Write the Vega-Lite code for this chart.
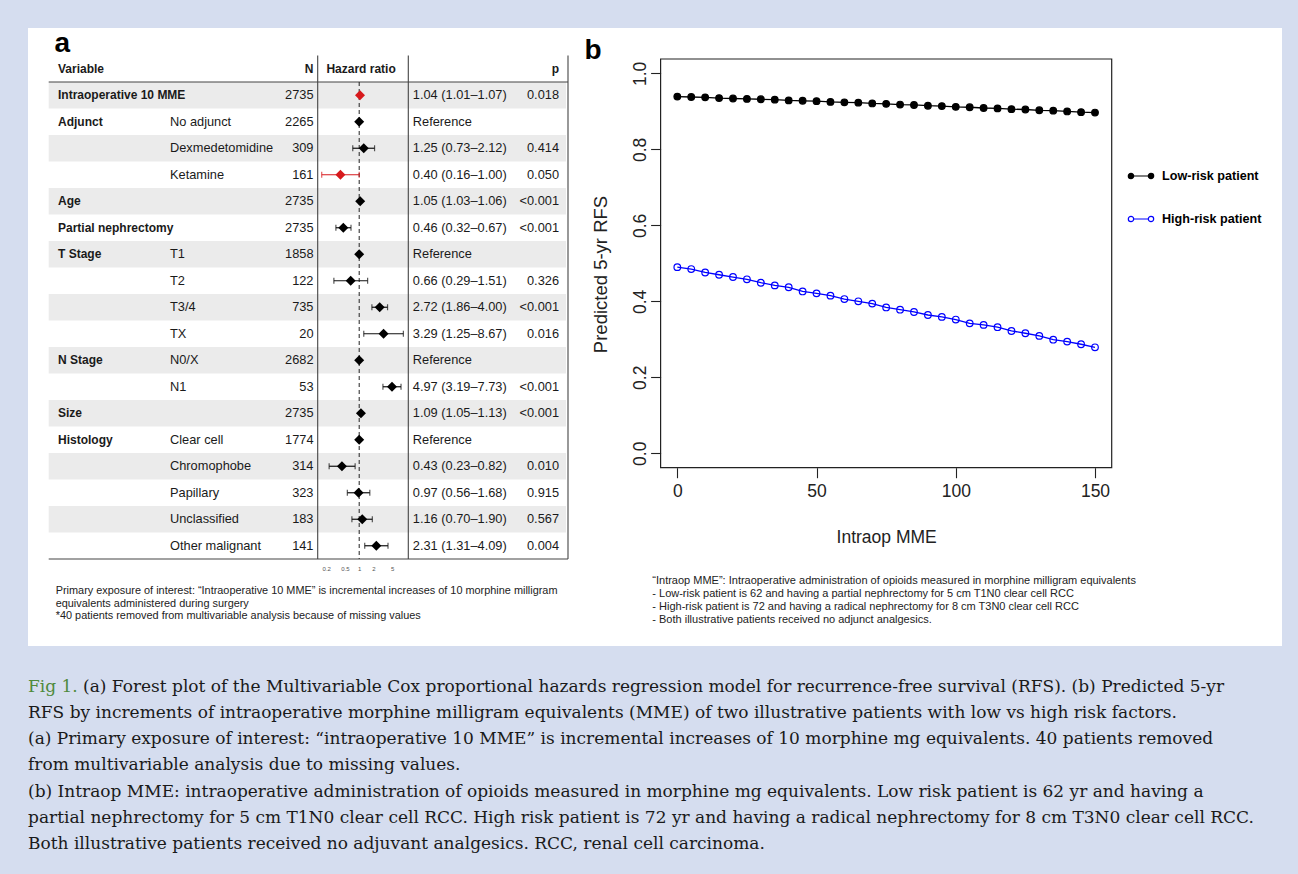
{
  "$schema": "https://vega.github.io/schema/vega-lite/v6.json",
  "background": "#d5ddef",
  "padding": {"left": 28, "top": 28, "right": 16, "bottom": 0},
  "config": {
    "view": {"stroke": null},
    "axis": {"grid": false, "labelFont": "Liberation Sans", "titleFont": "Liberation Sans"},
    "legend": {"labelFont": "Liberation Sans"},
    "text": {"font": "Liberation Sans"}
  },
  "datasets": {
    "forest": [
      {"id": 1, "var": "Intraoperative 10 MME", "sub": "", "n": "2735", "est": "1.04 (1.01–1.07)", "p": "0.018", "hr": 1.04, "lo": 1.01, "hi": 1.07, "hl": true},
      {"id": 2, "var": "Adjunct", "sub": "No adjunct", "n": "2265", "est": "Reference", "p": "", "hr": 1, "lo": null, "hi": null, "hl": false},
      {"id": 3, "var": "", "sub": "Dexmedetomidine", "n": "309", "est": "1.25 (0.73–2.12)", "p": "0.414", "hr": 1.25, "lo": 0.73, "hi": 2.12, "hl": false},
      {"id": 4, "var": "", "sub": "Ketamine", "n": "161", "est": "0.40 (0.16–1.00)", "p": "0.050", "hr": 0.40, "lo": 0.16, "hi": 1.00, "hl": true},
      {"id": 5, "var": "Age", "sub": "", "n": "2735", "est": "1.05 (1.03–1.06)", "p": "<0.001", "hr": 1.05, "lo": 1.03, "hi": 1.06, "hl": false},
      {"id": 6, "var": "Partial nephrectomy", "sub": "", "n": "2735", "est": "0.46 (0.32–0.67)", "p": "<0.001", "hr": 0.46, "lo": 0.32, "hi": 0.67, "hl": false},
      {"id": 7, "var": "T Stage", "sub": "T1", "n": "1858", "est": "Reference", "p": "", "hr": 1, "lo": null, "hi": null, "hl": false},
      {"id": 8, "var": "", "sub": "T2", "n": "122", "est": "0.66 (0.29–1.51)", "p": "0.326", "hr": 0.66, "lo": 0.29, "hi": 1.51, "hl": false},
      {"id": 9, "var": "", "sub": "T3/4", "n": "735", "est": "2.72 (1.86–4.00)", "p": "<0.001", "hr": 2.72, "lo": 1.86, "hi": 4.00, "hl": false},
      {"id": 10, "var": "", "sub": "TX", "n": "20", "est": "3.29 (1.25–8.67)", "p": "0.016", "hr": 3.29, "lo": 1.25, "hi": 8.67, "hl": false},
      {"id": 11, "var": "N Stage", "sub": "N0/X", "n": "2682", "est": "Reference", "p": "", "hr": 1, "lo": null, "hi": null, "hl": false},
      {"id": 12, "var": "", "sub": "N1", "n": "53", "est": "4.97 (3.19–7.73)", "p": "<0.001", "hr": 4.97, "lo": 3.19, "hi": 7.73, "hl": false},
      {"id": 13, "var": "Size", "sub": "", "n": "2735", "est": "1.09 (1.05–1.13)", "p": "<0.001", "hr": 1.09, "lo": 1.05, "hi": 1.13, "hl": false},
      {"id": 14, "var": "Histology", "sub": "Clear cell", "n": "1774", "est": "Reference", "p": "", "hr": 1, "lo": null, "hi": null, "hl": false},
      {"id": 15, "var": "", "sub": "Chromophobe", "n": "314", "est": "0.43 (0.23–0.82)", "p": "0.010", "hr": 0.43, "lo": 0.23, "hi": 0.82, "hl": false},
      {"id": 16, "var": "", "sub": "Papillary", "n": "323", "est": "0.97 (0.56–1.68)", "p": "0.915", "hr": 0.97, "lo": 0.56, "hi": 1.68, "hl": false},
      {"id": 17, "var": "", "sub": "Unclassified", "n": "183", "est": "1.16 (0.70–1.90)", "p": "0.567", "hr": 1.16, "lo": 0.70, "hi": 1.90, "hl": false},
      {"id": 18, "var": "", "sub": "Other malignant", "n": "141", "est": "2.31 (1.31–4.09)", "p": "0.004", "hr": 2.31, "lo": 1.31, "hi": 4.09, "hl": false}
    ],
    "rfs": [
      {"series": "Low-risk patient", "mme": 0, "rfs": 0.939},
      {"series": "Low-risk patient", "mme": 5, "rfs": 0.938},
      {"series": "Low-risk patient", "mme": 10, "rfs": 0.937},
      {"series": "Low-risk patient", "mme": 15, "rfs": 0.935},
      {"series": "Low-risk patient", "mme": 20, "rfs": 0.934},
      {"series": "Low-risk patient", "mme": 25, "rfs": 0.933},
      {"series": "Low-risk patient", "mme": 30, "rfs": 0.932},
      {"series": "Low-risk patient", "mme": 35, "rfs": 0.931},
      {"series": "Low-risk patient", "mme": 40, "rfs": 0.929},
      {"series": "Low-risk patient", "mme": 45, "rfs": 0.928},
      {"series": "Low-risk patient", "mme": 50, "rfs": 0.927},
      {"series": "Low-risk patient", "mme": 55, "rfs": 0.925},
      {"series": "Low-risk patient", "mme": 60, "rfs": 0.924},
      {"series": "Low-risk patient", "mme": 65, "rfs": 0.923},
      {"series": "Low-risk patient", "mme": 70, "rfs": 0.921},
      {"series": "Low-risk patient", "mme": 75, "rfs": 0.920},
      {"series": "Low-risk patient", "mme": 80, "rfs": 0.918},
      {"series": "Low-risk patient", "mme": 85, "rfs": 0.917},
      {"series": "Low-risk patient", "mme": 90, "rfs": 0.915},
      {"series": "Low-risk patient", "mme": 95, "rfs": 0.914},
      {"series": "Low-risk patient", "mme": 100, "rfs": 0.912},
      {"series": "Low-risk patient", "mme": 105, "rfs": 0.911},
      {"series": "Low-risk patient", "mme": 110, "rfs": 0.909},
      {"series": "Low-risk patient", "mme": 115, "rfs": 0.908},
      {"series": "Low-risk patient", "mme": 120, "rfs": 0.906},
      {"series": "Low-risk patient", "mme": 125, "rfs": 0.905},
      {"series": "Low-risk patient", "mme": 130, "rfs": 0.903},
      {"series": "Low-risk patient", "mme": 135, "rfs": 0.902},
      {"series": "Low-risk patient", "mme": 140, "rfs": 0.900},
      {"series": "Low-risk patient", "mme": 145, "rfs": 0.898},
      {"series": "Low-risk patient", "mme": 150, "rfs": 0.897},
      {"series": "High-risk patient", "mme": 0, "rfs": 0.490},
      {"series": "High-risk patient", "mme": 5, "rfs": 0.485},
      {"series": "High-risk patient", "mme": 10, "rfs": 0.476},
      {"series": "High-risk patient", "mme": 15, "rfs": 0.470},
      {"series": "High-risk patient", "mme": 20, "rfs": 0.464},
      {"series": "High-risk patient", "mme": 25, "rfs": 0.458},
      {"series": "High-risk patient", "mme": 30, "rfs": 0.449},
      {"series": "High-risk patient", "mme": 35, "rfs": 0.442},
      {"series": "High-risk patient", "mme": 40, "rfs": 0.437},
      {"series": "High-risk patient", "mme": 45, "rfs": 0.426},
      {"series": "High-risk patient", "mme": 50, "rfs": 0.421},
      {"series": "High-risk patient", "mme": 55, "rfs": 0.415},
      {"series": "High-risk patient", "mme": 60, "rfs": 0.406},
      {"series": "High-risk patient", "mme": 65, "rfs": 0.400},
      {"series": "High-risk patient", "mme": 70, "rfs": 0.394},
      {"series": "High-risk patient", "mme": 75, "rfs": 0.384},
      {"series": "High-risk patient", "mme": 80, "rfs": 0.378},
      {"series": "High-risk patient", "mme": 85, "rfs": 0.372},
      {"series": "High-risk patient", "mme": 90, "rfs": 0.364},
      {"series": "High-risk patient", "mme": 95, "rfs": 0.359},
      {"series": "High-risk patient", "mme": 100, "rfs": 0.352},
      {"series": "High-risk patient", "mme": 105, "rfs": 0.342},
      {"series": "High-risk patient", "mme": 110, "rfs": 0.338},
      {"series": "High-risk patient", "mme": 115, "rfs": 0.332},
      {"series": "High-risk patient", "mme": 120, "rfs": 0.322},
      {"series": "High-risk patient", "mme": 125, "rfs": 0.316},
      {"series": "High-risk patient", "mme": 130, "rfs": 0.309},
      {"series": "High-risk patient", "mme": 135, "rfs": 0.299},
      {"series": "High-risk patient", "mme": 140, "rfs": 0.294},
      {"series": "High-risk patient", "mme": 145, "rfs": 0.287},
      {"series": "High-risk patient", "mme": 150, "rfs": 0.279}
    ],
    "notesA": [
      {"line": 1, "text": "Primary exposure of interest: “Intraoperative 10 MME” is incremental increases of 10 morphine milligram"},
      {"line": 2, "text": "equivalents administered during surgery"},
      {"line": 3, "text": "*40 patients removed from multivariable analysis because of missing values"}
    ],
    "notesB": [
      {"line": 1, "text": "“Intraop MME”: Intraoperative administration of opioids measured in morphine milligram equivalents"},
      {"line": 2, "text": "- Low-risk patient is 62 and having a partial nephrectomy for 5 cm T1N0 clear cell RCC"},
      {"line": 3, "text": "- High-risk patient is 72 and having a radical nephrectomy for 8 cm T3N0 clear cell RCC"},
      {"line": 4, "text": "- Both illustrative patients received no adjunct analgesics."}
    ],
    "caption": [
      {"line": 1, "text": "(a) Forest plot of the Multivariable Cox proportional hazards regression model for recurrence-free survival (RFS). (b) Predicted 5-yr"},
      {"line": 2, "text": "RFS by increments of intraoperative morphine milligram equivalents (MME) of two illustrative patients with low vs high risk factors."},
      {"line": 3, "text": "(a) Primary exposure of interest: “intraoperative 10 MME” is incremental increases of 10 morphine mg equivalents. 40 patients removed"},
      {"line": 4, "text": "from multivariable analysis due to missing values."},
      {"line": 5, "text": "(b) Intraop MME: intraoperative administration of opioids measured in morphine mg equivalents. Low risk patient is 62 yr and having a"},
      {"line": 6, "text": "partial nephrectomy for 5 cm T1N0 clear cell RCC. High risk patient is 72 yr and having a radical nephrectomy for 8 cm T3N0 clear cell RCC."},
      {"line": 7, "text": "Both illustrative patients received no adjuvant analgesics. RCC, renal cell carcinoma."}
    ]
  },
  "spacing": 0,
  "vconcat": [
    {
      "width": 1254,
      "height": 618,
      "view": {"fill": "white", "stroke": null},
      "resolve": {
        "scale": {"x": "independent", "y": "independent"},
        "axis": {"x": "independent", "y": "independent"}
      },
      "layer": [
        {
          "data": {"name": "forest"},
          "layer": [
            {
              "transform": [{"filter": "datum.id % 2 == 1"}],
              "mark": {"type": "rect", "fill": "#ebebeb"},
              "encoding": {
                "x": {"datum": 20.7, "type": "quantitative", "scale": {"domain": [0, 1254], "range": [0, 1254], "nice": false, "zero": false}, "axis": null},
                "x2": {"datum": 538},
                "y": {"field": "id", "type": "ordinal", "scale": {"type": "band", "domain": [0,1,2,3,4,5,6,7,8,9,10,11,12,13,14,15,16,17,18], "range": [27.5, 531], "paddingInner": 0, "paddingOuter": 0}, "axis": null}
              }
            },
            {
              "data": {"values": [{}]},
              "mark": {"type": "rule", "color": "#444", "strokeWidth": 1.2},
              "encoding": {
                "x": {"datum": 20.7, "type": "quantitative"},
                "x2": {"datum": 540},
                "y": {"datum": 1, "type": "ordinal", "bandPosition": 0}
              }
            },
            {
              "data": {"values": [{}]},
              "mark": {"type": "rule", "color": "#444", "strokeWidth": 1.2},
              "encoding": {
                "x": {"datum": 20.7, "type": "quantitative"},
                "x2": {"datum": 540},
                "y": {"datum": 18, "type": "ordinal", "bandPosition": 1}
              }
            },
            {
              "data": {"values": [{}]},
              "mark": {"type": "rule", "color": "#444", "strokeWidth": 1.1},
              "encoding": {
                "x": {"datum": 289.7, "type": "quantitative"},
                "y": {"datum": 0, "type": "ordinal", "bandPosition": 0},
                "y2": {"datum": 18, "bandPosition": 1}
              }
            },
            {
              "data": {"values": [{}]},
              "mark": {"type": "rule", "color": "#444", "strokeWidth": 1.1},
              "encoding": {
                "x": {"datum": 380.3, "type": "quantitative"},
                "y": {"datum": 0, "type": "ordinal", "bandPosition": 0},
                "y2": {"datum": 18, "bandPosition": 1}
              }
            },
            {
              "data": {"values": [{}]},
              "mark": {"type": "rule", "color": "#444", "strokeWidth": 1.1},
              "encoding": {
                "x": {"datum": 540, "type": "quantitative"},
                "y": {"datum": 0, "type": "ordinal", "bandPosition": 0},
                "y2": {"datum": 18, "bandPosition": 1}
              }
            },
            {
              "mark": {"type": "text", "align": "left", "baseline": "middle", "fontSize": 12, "fontWeight": "bold", "color": "#1a1a1a"},
              "encoding": {
                "x": {"datum": 30, "type": "quantitative"},
                "y": {"field": "id", "type": "ordinal", "bandPosition": 0.5},
                "text": {"field": "var", "type": "nominal"}
              }
            },
            {
              "mark": {"type": "text", "align": "left", "baseline": "middle", "fontSize": 12.8, "color": "#1a1a1a"},
              "encoding": {
                "x": {"datum": 142, "type": "quantitative"},
                "y": {"field": "id", "type": "ordinal", "bandPosition": 0.5},
                "text": {"field": "sub", "type": "nominal"}
              }
            },
            {
              "mark": {"type": "text", "align": "right", "baseline": "middle", "fontSize": 12.8, "color": "#1a1a1a"},
              "encoding": {
                "x": {"datum": 285.5, "type": "quantitative"},
                "y": {"field": "id", "type": "ordinal", "bandPosition": 0.5},
                "text": {"field": "n", "type": "nominal"}
              }
            },
            {
              "mark": {"type": "text", "align": "left", "baseline": "middle", "fontSize": 12.8, "color": "#1a1a1a"},
              "encoding": {
                "x": {"datum": 384.8, "type": "quantitative"},
                "y": {"field": "id", "type": "ordinal", "bandPosition": 0.5},
                "text": {"field": "est", "type": "nominal"}
              }
            },
            {
              "mark": {"type": "text", "align": "right", "baseline": "middle", "fontSize": 12.8, "color": "#1a1a1a"},
              "encoding": {
                "x": {"datum": 531, "type": "quantitative"},
                "y": {"field": "id", "type": "ordinal", "bandPosition": 0.5},
                "text": {"field": "p", "type": "nominal"}
              }
            },
            {
              "data": {"values": [{}]},
              "mark": {"type": "text", "align": "left", "baseline": "middle", "fontSize": 12, "fontWeight": "bold", "color": "#1a1a1a"},
              "encoding": {
                "x": {"datum": 30, "type": "quantitative"},
                "y": {"datum": 0, "type": "ordinal", "bandPosition": 0.5},
                "text": {"value": "Variable"}
              }
            },
            {
              "data": {"values": [{}]},
              "mark": {"type": "text", "align": "right", "baseline": "middle", "fontSize": 12, "fontWeight": "bold", "color": "#1a1a1a"},
              "encoding": {
                "x": {"datum": 285.5, "type": "quantitative"},
                "y": {"datum": 0, "type": "ordinal", "bandPosition": 0.5},
                "text": {"value": "N"}
              }
            },
            {
              "data": {"values": [{}]},
              "mark": {"type": "text", "align": "left", "baseline": "middle", "fontSize": 12, "fontWeight": "bold", "color": "#1a1a1a"},
              "encoding": {
                "x": {"datum": 298.4, "type": "quantitative"},
                "y": {"datum": 0, "type": "ordinal", "bandPosition": 0.5},
                "text": {"value": "Hazard ratio"}
              }
            },
            {
              "data": {"values": [{}]},
              "mark": {"type": "text", "align": "right", "baseline": "middle", "fontSize": 12, "fontWeight": "bold", "color": "#1a1a1a"},
              "encoding": {
                "x": {"datum": 531, "type": "quantitative"},
                "y": {"datum": 0, "type": "ordinal", "bandPosition": 0.5},
                "text": {"value": "p"}
              }
            }
          ]
        },
        {
          "data": {"name": "forest"},
          "layer": [
            {
              "data": {"values": [{}]},
              "mark": {"type": "rule", "color": "#222", "strokeWidth": 1, "strokeDash": [4, 3]},
              "encoding": {
                "x": {"datum": 1, "type": "quantitative", "scale": {"type": "log", "domain": [0.1315, 11.03], "range": [289.7, 380.3], "nice": false},
                  "axis": {"orient": "top", "offset": -545, "values": [0.2, 0.5, 1, 2, 5], "format": "~g", "domain": false, "ticks": false, "labelPadding": 2, "labelFontSize": 6, "labelColor": "#555", "labelOverlap": false, "labelFlush": false, "title": null}},
                "y": {"datum": 1, "type": "ordinal", "bandPosition": 0, "scale": {"type": "band", "domain": [0,1,2,3,4,5,6,7,8,9,10,11,12,13,14,15,16,17,18], "range": [27.5, 531], "paddingInner": 0, "paddingOuter": 0}, "axis": null},
                "y2": {"datum": 18, "bandPosition": 1}
              }
            },
            {
              "mark": {"type": "rule", "strokeWidth": 1.2},
              "encoding": {
                "x": {"field": "lo", "type": "quantitative"},
                "x2": {"field": "hi"},
                "y": {"field": "id", "type": "ordinal", "bandPosition": 0.5},
                "color": {"condition": {"test": "datum.hl", "value": "#d7191c"}, "value": "#111"}
              }
            },
            {
              "mark": {"type": "tick", "orient": "vertical", "size": 6, "thickness": 1.2},
              "encoding": {
                "x": {"field": "lo", "type": "quantitative"},
                "y": {"field": "id", "type": "ordinal", "bandPosition": 0.5},
                "color": {"condition": {"test": "datum.hl", "value": "#d7191c"}, "value": "#111"}
              }
            },
            {
              "mark": {"type": "tick", "orient": "vertical", "size": 6, "thickness": 1.2},
              "encoding": {
                "x": {"field": "hi", "type": "quantitative"},
                "y": {"field": "id", "type": "ordinal", "bandPosition": 0.5},
                "color": {"condition": {"test": "datum.hl", "value": "#d7191c"}, "value": "#111"}
              }
            },
            {
              "mark": {"type": "point", "shape": "diamond", "filled": true, "size": 100, "opacity": 1},
              "encoding": {
                "x": {"field": "hr", "type": "quantitative"},
                "y": {"field": "id", "type": "ordinal", "bandPosition": 0.5},
                "color": {"condition": {"test": "datum.hl", "value": "#d7191c"}, "value": "#000"}
              }
            }
          ]
        },
        {
          "data": {"name": "rfs"},
          "layer": [
            {
              "data": {"values": [{}]},
              "mark": {"type": "rect", "fill": "transparent", "stroke": "#222", "strokeWidth": 1.2},
              "encoding": {
                "x": {"datum": -6, "type": "quantitative", "scale": {"domain": [-6, 156], "range": [632.6, 1083.7], "nice": false, "zero": false},
                  "axis": {"orient": "bottom", "offset": -178.3, "values": [0, 50, 100, 150], "domain": false, "tickSize": 10, "tickColor": "#222", "tickWidth": 1.1, "labelPadding": 5, "labelFontSize": 17.5, "labelColor": "#222", "labelFlush": false, "labelOverlap": false,
                    "title": "Intraop MME", "titleFontSize": 17.5, "titleFontWeight": "normal", "titleColor": "#222", "titleY": 69.3, "titleBaseline": "middle"}},
                "x2": {"datum": 156},
                "y": {"datum": -0.038, "type": "quantitative", "scale": {"domain": [-0.038, 1.038], "range": [439.7, 31], "nice": false, "zero": false},
                  "axis": {"orient": "left", "offset": -632.6, "values": [0, 0.2, 0.4, 0.6, 0.8, 1], "format": ".1f", "domain": false, "tickSize": 10, "tickColor": "#222", "tickWidth": 1.1, "labelAngle": -90, "labelAlign": "center", "labelBaseline": "alphabetic", "labelPadding": 5, "labelFontSize": 17.5, "labelColor": "#222", "labelFlush": false, "labelOverlap": false,
                    "title": "Predicted 5-yr RFS", "titleFontSize": 18.5, "titleFontWeight": "normal", "titleColor": "#222", "titleAngle": -90, "titleX": -60.6, "titleY": 246, "titleAlign": "center", "titleBaseline": "middle"}},
                "y2": {"datum": 1.038}
              }
            },
            {
              "mark": {"type": "line", "strokeWidth": 1.3},
              "encoding": {
                "x": {"field": "mme", "type": "quantitative"},
                "y": {"field": "rfs", "type": "quantitative"},
                "color": {"field": "series", "type": "nominal",
                  "scale": {"domain": ["Low-risk patient", "High-risk patient"], "range": ["#000000", "#0000ff"]},
                  "legend": {"orient": "none", "legendX": 1102, "legendY": 137, "title": null, "padding": 0,
                    "symbolType": "M-0.73,0L0.73,0M-1.27,0A0.27,0.27,0,1,1,-0.73,0A0.27,0.27,0,1,1,-1.27,0M0.73,0A0.27,0.27,0,1,1,1.27,0A0.27,0.27,0,1,1,0.73,0",
                    "symbolSize": 400, "symbolStrokeWidth": 1.2, "labelFontSize": 12.6, "labelFontWeight": "bold", "labelColor": "#000", "labelOffset": 10, "rowPadding": 25,
                    "encode": {"symbols": {"update": {
                      "fill": {"signal": "datum.value === 'Low-risk patient' ? '#000000' : '#ffffff'"},
                      "stroke": {"signal": "datum.value === 'Low-risk patient' ? '#000000' : '#0000ff'"},
                      "opacity": {"value": 1}
                    }}}}
                },
                "detail": {"field": "series"}
              }
            },
            {
              "mark": {"type": "point", "filled": false, "size": 44, "strokeWidth": 1.2, "opacity": 1},
              "encoding": {
                "x": {"field": "mme", "type": "quantitative"},
                "y": {"field": "rfs", "type": "quantitative"},
                "color": {"field": "series", "type": "nominal"},
                "fill": {"condition": {"test": "datum.series === 'Low-risk patient'", "value": "#000000"}, "value": "transparent"}
              }
            }
          ]
        },
        {
          "data": {"name": "notesA"},
          "mark": {"type": "text", "align": "left", "baseline": "middle", "fontSize": 10.9, "color": "#222"},
          "encoding": {
            "x": {"datum": 0, "type": "quantitative", "scale": {"domain": [0, 1], "range": [27.7, 127.7], "nice": false, "zero": false}, "axis": null},
            "y": {"field": "line", "type": "ordinal", "scale": {"type": "point", "domain": [1, 2, 3], "range": [562.7, 588.3], "padding": 0}, "axis": null},
            "text": {"field": "text", "type": "nominal"}
          }
        },
        {
          "data": {"name": "notesB"},
          "mark": {"type": "text", "align": "left", "baseline": "middle", "fontSize": 11, "color": "#222"},
          "encoding": {
            "x": {"datum": 0, "type": "quantitative", "scale": {"domain": [0, 1], "range": [624.3, 724.3], "nice": false, "zero": false}, "axis": null},
            "y": {"field": "line", "type": "ordinal", "scale": {"type": "point", "domain": [1, 2, 3, 4], "range": [552.8, 592.4], "padding": 0}, "axis": null},
            "text": {"field": "text", "type": "nominal"}
          }
        },
        {
          "data": {"values": [{"panel": "a"}, {"panel": "b"}]},
          "mark": {"type": "text", "align": "left", "baseline": "alphabetic", "fontSize": 28, "fontWeight": "bold", "color": "#000"},
          "encoding": {
            "x": {"field": "panel", "type": "nominal", "scale": {"type": "point", "domain": ["a", "b"], "range": [26.5, 556.5], "padding": 0}, "axis": null},
            "y": {"field": "panel", "type": "nominal", "scale": {"type": "point", "domain": ["a", "b"], "range": [23.7, 30.8], "padding": 0}, "axis": null},
            "text": {"field": "panel", "type": "nominal"}
          }
        }
      ]
    },
    {
      "width": 1254,
      "height": 228,
      "view": {"stroke": null},
      "data": {"name": "caption"},
      "resolve": {"scale": {"x": "shared", "y": "shared"}},
      "layer": [
        {
          "transform": [{"filter": "datum.line == 1"}],
          "mark": {"type": "text", "align": "left", "baseline": "middle", "font": "DejaVu Serif", "fontSize": 17, "color": "#4f8a3c"},
          "encoding": {
            "x": {"datum": 0, "type": "quantitative", "scale": {"domain": [0, 1], "range": [0, 1254], "nice": false, "zero": false}, "axis": null},
            "y": {"field": "line", "type": "ordinal", "scale": {"type": "point", "domain": [1, 2, 3, 4, 5, 6, 7], "range": [40.7, 198], "padding": 0}, "axis": null},
            "text": {"value": "Fig 1."}
          }
        },
        {
          "transform": [{"filter": "datum.line == 1"}],
          "mark": {"type": "text", "align": "left", "baseline": "middle", "font": "DejaVu Serif", "fontSize": 17, "color": "#1a1a1a", "dx": 55},
          "encoding": {
            "x": {"datum": 0, "type": "quantitative"},
            "y": {"field": "line", "type": "ordinal"},
            "text": {"field": "text", "type": "nominal"}
          }
        },
        {
          "transform": [{"filter": "datum.line > 1"}],
          "mark": {"type": "text", "align": "left", "baseline": "middle", "font": "DejaVu Serif", "fontSize": 17, "color": "#1a1a1a"},
          "encoding": {
            "x": {"datum": 0, "type": "quantitative"},
            "y": {"field": "line", "type": "ordinal"},
            "text": {"field": "text", "type": "nominal"}
          }
        }
      ]
    }
  ]
}
